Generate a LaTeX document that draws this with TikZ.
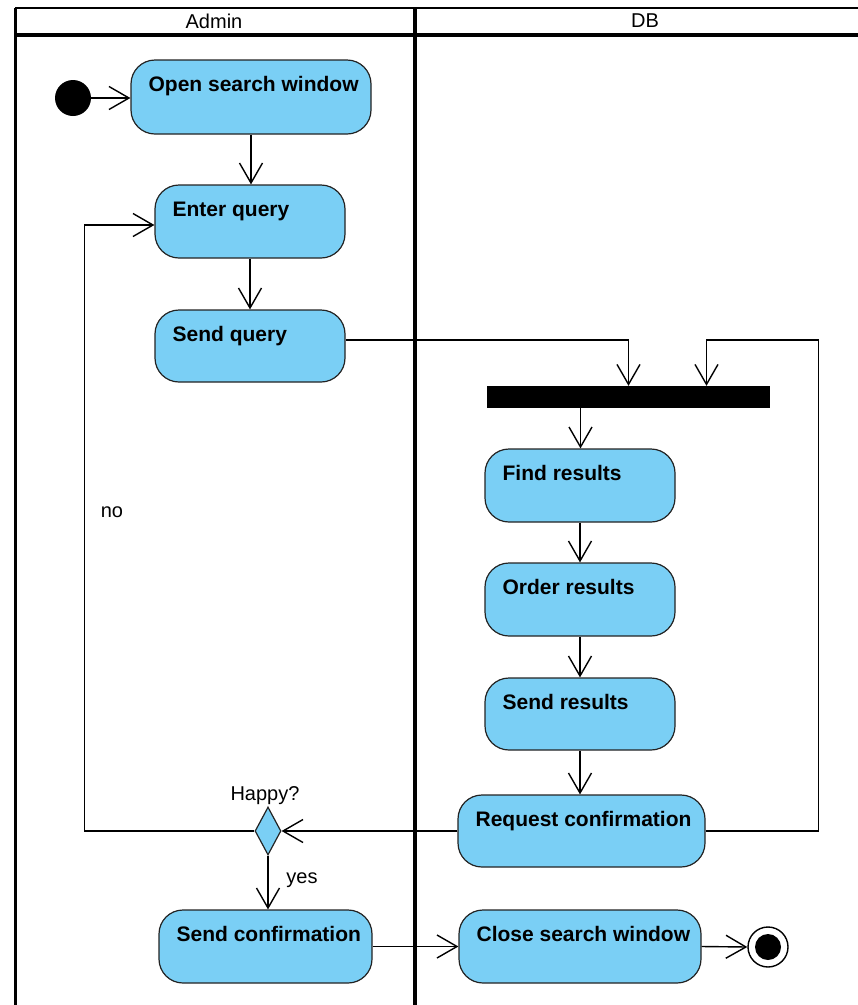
\documentclass[tikz,border=0pt]{standalone}
\usepackage{fontspec}
\setmainfont{Liberation Sans}
\usetikzlibrary{arrows.meta,shapes.geometric,calc}
\definecolor{actfill}{RGB}{122,207,245}
\definecolor{actdraw}{RGB}{35,35,35}
\begin{document}
\begin{tikzpicture}[x=1pt,y=-1pt,
  act/.style={draw=actdraw,line width=1.2pt,fill=actfill,rounded corners=24pt,inner sep=0pt,
    label={[anchor=north west,inner sep=0pt,font=\fontsize{21}{25}\selectfont\bfseries,xshift=18pt,yshift=-17pt]north west:#1}},
  flow/.style={draw=black,line width=1.4pt,-{Straight Barb[length=20pt,width=23pt,line width=1.4pt]}},
  lane/.style={draw=black,line width=3.6pt},
  lbl/.style={font=\fontsize{20}{24}\selectfont,inner sep=0pt}
]
\useasboundingbox (0,0) rectangle (858,1005);
% swimlanes
\draw[lane,line width=2.6pt] (15,8) -- (870,8);
\draw[lane] (15,35) -- (870,35);
\draw[lane,line width=3pt] (15,8) -- (15,1015);
\draw[lane] (415,8) -- (415,1015);
\node[lbl] (hadmin) at (214,21) {Admin};
\node[lbl] (hdb) at (645,21) {DB};
% nodes
\node[circle,fill=black,minimum size=36pt,inner sep=0pt] (start) at (73,98) {};
\node[act=Open search window,minimum width=240pt,minimum height=74pt] (osw) at (251,97) {};
\node[act=Enter query,minimum width=190pt,minimum height=73pt] (eq) at (250,221.5) {};
\node[act=Send query,minimum width=190pt,minimum height=72pt] (sq) at (250,346) {};
\node[fill=black,minimum width=283pt,minimum height=22pt,inner sep=0pt] (fork) at (628.5,397) {};
\node[act=Find results,minimum width=190pt,minimum height=73pt] (fr) at (580,485.5) {};
\node[act=Order results,minimum width=190pt,minimum height=73pt] (orr) at (580,599.5) {};
\node[act=Send results,minimum width=190pt,minimum height=72pt] (sr) at (580,714) {};
\node[act=Request confirmation,minimum width=247pt,minimum height=72pt] (rc) at (581.5,831) {};
\node[diamond,draw=actdraw,line width=1.2pt,fill=actfill,inner sep=0pt,aspect=0.54,minimum width=26pt,minimum height=48pt] (dia) at (268,831) {};
\node[act=Send confirmation,minimum width=213pt,minimum height=73pt] (sc) at (265.5,946.5) {};
\node[act=Close search window,minimum width=242pt,minimum height=73pt] (csw) at (580,946.5) {};
\node[circle,draw=black,line width=1.4pt,fill=white,minimum size=40pt,inner sep=0pt] (final) at (768,947) {};
\node[circle,fill=black,minimum size=26pt,inner sep=0pt] (finalin) at (768,947) {};
% labels
\node[lbl] (happy) at (265,796) {Happy?};
\node[lbl] (yes) at (302,880) {yes};
\node[lbl] (no) at (112,512) {no};
% connectors
\draw[flow] (start) -- (start -| osw.west);
\draw[flow] (osw.south) -- (osw.south |- eq.north);
\draw[flow] (eq.south) -- (eq.south |- sq.north);
\path ([yshift=6pt]sq.east) coordinate (sqOut);
\draw[flow] (sqOut) -| (fork.north);
\path (rc.east) ++(113,0) coordinate (loopB);
\path (loopB |- sqOut) coordinate (loopT);
\path (fork.north) ++(78,0) coordinate (forkIn);
\draw[flow] (rc.east) -- (loopB) -- (loopT) -| (forkIn);
\path (fork.south) ++(-48,0) coordinate (forkOut);
\draw[flow] (forkOut) -- (forkOut |- fr.north);
\draw[flow] (fr.south) -- (orr.north);
\draw[flow] (orr.south) -- (sr.north);
\draw[flow] (sr.south) -- (sr.south |- rc.north);
\draw[flow] (rc.west) -- (dia.east);
\path (dia.west) ++(-170,0) coordinate (noB);
\path ([yshift=-3.5pt]eq.west) coordinate (eqIn);
\draw[flow] (dia.west) -- (noB) |- (eqIn);
\draw[flow] (dia.south) -- (dia.south |- sc.north);
\draw[flow] (sc.east) -- (sc.east -| csw.west);
\draw[flow] (csw.east) -- (final.west);
\end{tikzpicture}
\end{document}
